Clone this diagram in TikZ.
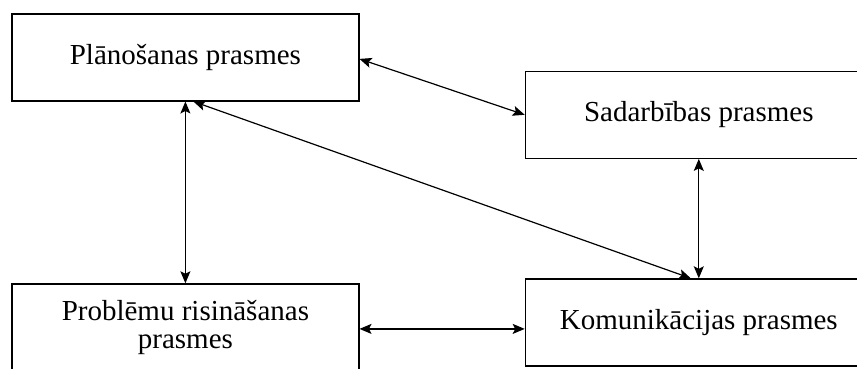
\documentclass[tikz,border=0pt]{standalone}
\usepackage{fontspec}
\setmainfont{Liberation Serif}
\usetikzlibrary{arrows.meta}
\begin{document}
\begin{tikzpicture}[x=1pt,y=1pt,
  skillbox/.style={draw, line width=1.2pt, minimum width=347pt, minimum height=87pt,
    inner sep=0pt, anchor=north west, align=center,
    font=\fontsize{29}{27.5}\selectfont},
  tip/.style={Stealth[length=12pt,width=10pt,inset=2.5pt]},
  link/.style={line width=1.2pt, {Stealth[length=12pt,width=10pt,inset=2.5pt]}-{Stealth[length=12pt,width=10pt,inset=2.5pt]}}]
  \clip (0,0) rectangle (857,-368);
  \fill[white] (0,0) rectangle (857,-368);

  % four skill boxes
  \node[skillbox] (P)  at (11.3,-13.3)  {Plānošanas prasmes};
  \node[skillbox] (S)  at (524.7,-70.7) {Sadarbības prasmes};
  \node[skillbox] (Pr) at (11.3,-283.3) {Problēmu risināšanas\\prasmes};
  \node[skillbox] (K)  at (524.7,-278.3) {Komunikācijas prasmes};

  % two-way connections
  \draw[link] ([yshift=-1.5pt]P.east) -- (S.west);
  \draw[link] (P.south) -- (Pr.north);
  \draw[link] ([xshift=8pt]P.south) -- ([xshift=-8pt]K.north);
  \draw[link] (S.south) -- (K.north);
  \coordinate (h) at ([yshift=-1.5pt]Pr.east);
  \draw[link] (h) -- (h -| K.west);
\end{tikzpicture}
\end{document}
